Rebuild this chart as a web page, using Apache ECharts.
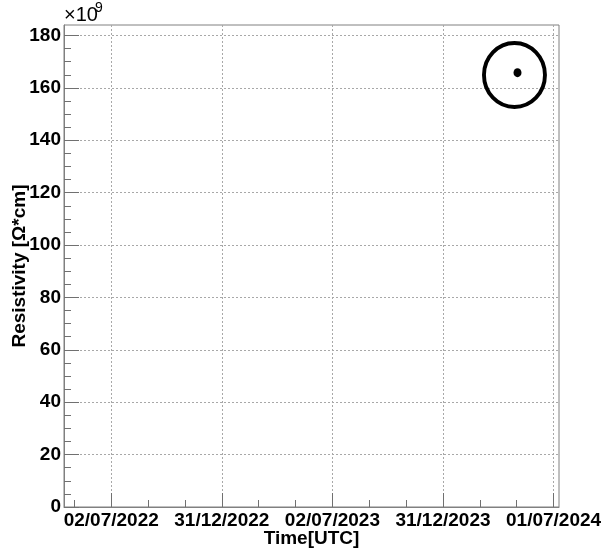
<!DOCTYPE html>
<html><head><meta charset="utf-8">
<script src="https://cdn.jsdelivr.net/npm/echarts@6/dist/echarts.min.js"></script>
<style>html,body{margin:0;padding:0;background:#fff}#c{width:606px;height:555px}</style>
</head><body><div id="c"></div>
<script>
// ---- data ----
const xRange = ['2022-04-15T00:00:00Z', '2024-07-10T00:00:00Z'];
const xTickDates = ['2022-07-02T00:00:00Z','2022-12-31T12:00:00Z','2023-07-02T00:00:00Z','2023-12-31T12:00:00Z','2024-07-01T00:00:00Z'];
const xTickLabels = ['02/07/2022','31/12/2022','02/07/2023','31/12/2023','01/07/2024'];
const xMinorTickDates = ['2022-05-02T04:00:00Z','2022-08-31T20:00:00Z','2022-10-31T16:00:00Z','2023-03-02T08:00:00Z','2023-05-02T04:00:00Z','2023-08-31T20:00:00Z','2023-10-31T16:00:00Z','2024-03-01T08:00:00Z','2024-05-01T04:00:00Z'];
const yRange = [0, 184];
const yTickValues = [0,20,40,60,80,100,120,140,160,180];
const yMinorTickValues = [5,10,15,25,30,35,45,50,55,65,70,75,85,90,95,105,110,115,125,130,135,145,150,155,165,170,175];
const pointDates = ['2024-05-02T12:00:00Z'];
const resistivity = [165.8];          // x 10^9 Ohm*cm
const circleDates = ['2024-04-27T12:00:00Z'];
const circleValues = [164.9];

// ---- build ----
const t = s => Date.parse(s);
const xTickVals = xTickDates.map(t);
const FONT = '"Liberation Sans", Arial, sans-serif';
const gridRect = {left: 64, right: 47, top: 25, bottom: 48};
const chart = echarts.init(document.getElementById('c'), null, {renderer: 'canvas'});
chart.setOption({
  animation: false,
  backgroundColor: '#fff',
  grid: [
    Object.assign({show: true, borderColor: '#808080', borderWidth: 1, backgroundColor: 'transparent', containLabel: false, outerBoundsMode: 'none'}, gridRect),
    Object.assign({show: false, containLabel: false, outerBoundsMode: 'none'}, gridRect)
  ],
  xAxis: [{
    type: 'value', gridIndex: 0, min: t(xRange[0]), max: t(xRange[1]),
    axisLine: {show: true, lineStyle: {color: '#808080', width: 1}},
    axisTick: {show: true, inside: true, length: 14, customValues: xTickVals, lineStyle: {color: '#707070'}},
    axisLabel: {show: true, customValues: xTickVals, margin: 4, color: '#000',
      fontFamily: FONT, fontWeight: 'bold', fontSize: 19,
      formatter: v => { const i = xTickVals.indexOf(v); return i >= 0 ? xTickLabels[i] : ''; }},
    splitLine: {show: true, lineStyle: {color: '#a8a8a8', type: [2, 2], width: 1}},
    name: 'Time[UTC]', nameLocation: 'middle', nameGap: 22, nameMoveOverlap: false,
    nameTextStyle: {color: '#000', fontFamily: FONT, fontWeight: 'bold', fontSize: 19}
  }, {
    type: 'value', gridIndex: 1, min: t(xRange[0]), max: t(xRange[1]), position: 'bottom',
    axisLine: {show: false},
    axisTick: {show: true, inside: true, length: 7, customValues: xMinorTickDates.map(t), lineStyle: {color: '#707070'}},
    axisLabel: {show: false}, splitLine: {show: false}
  }],
  yAxis: [{
    type: 'value', gridIndex: 0, min: yRange[0], max: yRange[1],
    axisLine: {show: true, lineStyle: {color: '#808080', width: 1}},
    axisTick: {show: true, inside: true, length: 15, customValues: yTickValues, lineStyle: {color: '#707070'}},
    axisLabel: {show: true, customValues: yTickValues, margin: 3, color: '#000',
      fontFamily: FONT, fontWeight: 'bold', fontSize: 19},
    splitLine: {show: true, lineStyle: {color: '#a8a8a8', type: [2, 2], width: 1}},
    name: 'Resistivity [Ω*cm]', nameLocation: 'middle', nameRotate: 90, nameGap: 35, nameMoveOverlap: false,
    nameTextStyle: {color: '#000', fontFamily: FONT, fontWeight: 'bold', fontSize: 19}
  }, {
    type: 'value', gridIndex: 1, min: yRange[0], max: yRange[1], position: 'left',
    axisLine: {show: false},
    axisTick: {show: true, inside: true, length: 7, customValues: yMinorTickValues, lineStyle: {color: '#707070'}},
    axisLabel: {show: false}, splitLine: {show: false}
  }],
  graphic: [
    {type: 'text', left: 64, top: 5, style: {text: '×10', fontSize: 20, fontFamily: FONT, fill: '#000'}},
    {type: 'text', left: 95, top: 1, style: {text: '9', fontSize: 14, fontFamily: FONT, fill: '#000'}}
  ],
  series: [{
    type: 'scatter', xAxisIndex: 0, yAxisIndex: 0, z: 3,
    symbol: 'circle', symbolSize: [61, 64],
    itemStyle: {color: 'rgba(0,0,0,0)', borderColor: '#000', borderWidth: 4, opacity: 1},
    data: circleDates.map((d, i) => [t(d), circleValues[i]]),
    silent: true
  }, {
    type: 'scatter', xAxisIndex: 0, yAxisIndex: 0, z: 4,
    symbol: 'circle', symbolSize: [8, 9],
    itemStyle: {color: '#000', opacity: 1},
    data: pointDates.map((d, i) => [t(d), resistivity[i]]),
    silent: true
  }]
});
</script></body></html>
